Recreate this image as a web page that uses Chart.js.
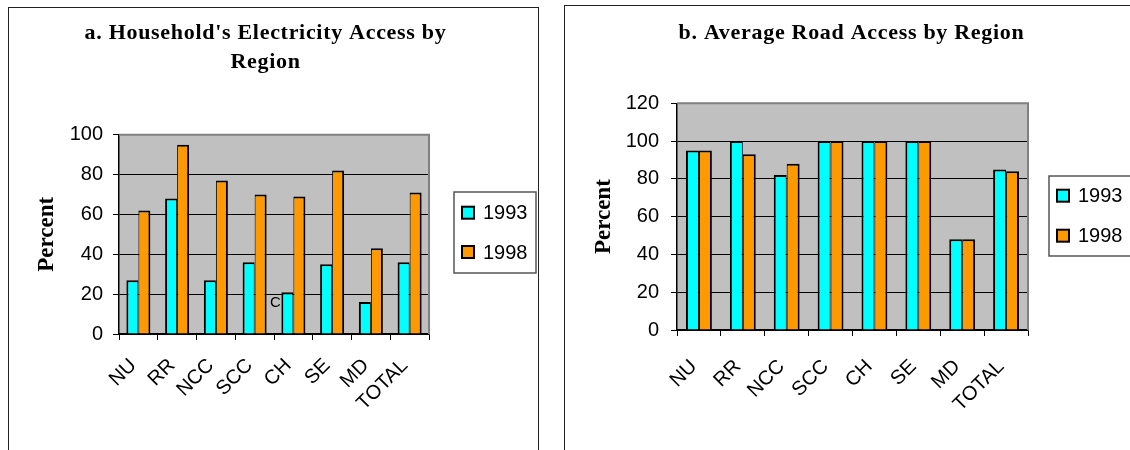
<!DOCTYPE html>
<html>
<head>
<meta charset="utf-8">
<title>Electricity and Road Access by Region</title>
<script src="https://cdn.jsdelivr.net/npm/chart.js@4"></script>
<style>
  html, body { margin: 0; padding: 0; background: #fff; width: 1130px; height: 450px; overflow: hidden; }
  .panel { position: absolute; box-sizing: border-box; border: 1px solid #222; border-bottom: none; background: #fff; }
  #panelA { left: 8px; top: 7px; width: 531px; height: 460px; }
  #panelB { left: 564px; top: 5px; width: 600px; height: 460px; }
  canvas { position: absolute; }
  #chartA { left: 9px; top: 8px; width: 528px; height: 442px; }
  #chartB { left: 565px; top: 6px; width: 565px; height: 444px; }
</style>
</head>
<body>
<div class="panel" id="panelA"></div>
<div class="panel" id="panelB"></div>
<canvas id="chartA" width="528" height="442"></canvas>
<canvas id="chartB" width="565" height="444"></canvas>
<script>
// Regions and survey years
const regions = ['NU', 'RR', 'NCC', 'SCC', 'CH', 'SE', 'MD', 'TOTAL'];
const years = ['1993', '1998'];

// a. Household electricity access (percent)
const electricity1993 = [27, 68, 27, 36, 21, 35, 16, 36];
const electricity1998 = [62, 95, 77, 70, 69, 82, 43, 71];

// b. Average road access (percent)
const road1993 = [95, 100, 82, 100, 100, 100, 48, 85];
const road1998 = [95, 93, 88, 100, 100, 100, 48, 84];

// Value-axis tick labels
const electricityTicks = [0, 20, 40, 60, 80, 100];
const roadTicks = [0, 20, 40, 60, 80, 100, 120];

const titleA = ["a. Household's Electricity Access by", 'Region'];
const titleB = ['b. Average Road Access by Region'];

const seriesColors = ['#00ffff', '#ff9900'];
const sansFont = '"Liberation Sans", Arial, sans-serif';
const serifFont = '"Liberation Serif", "Times New Roman", serif';

// Grey plot area, its frame, the title block and a framed legend
function decorations(opts) {
  return {
    id: 'decorations',
    beforeDraw(chart) {
      const { ctx, chartArea: a } = chart;
      ctx.save();
      ctx.fillStyle = '#c0c0c0';
      ctx.fillRect(a.left, a.top, a.right - a.left, a.bottom - a.top);
      ctx.restore();
    },
    afterDraw(chart) {
      const { ctx, chartArea: a } = chart;
      ctx.save();
      // frame along the top and right of the plot area
      ctx.strokeStyle = '#808080';
      ctx.lineWidth = 2;
      ctx.beginPath();
      ctx.moveTo(a.left, a.top);
      ctx.lineTo(a.right, a.top);
      ctx.lineTo(a.right, a.bottom);
      ctx.stroke();

      // title
      ctx.fillStyle = '#000';
      ctx.font = 'bold 22px ' + serifFont;
      ctx.letterSpacing = '0.7px';
      ctx.textAlign = 'center';
      ctx.textBaseline = 'alphabetic';
      opts.title.forEach((line, i) => ctx.fillText(line, opts.titleX, opts.titleY + i * 29));
      ctx.letterSpacing = '0px';

      // legend
      const L = opts.legend;
      ctx.fillStyle = '#fff';
      ctx.fillRect(L.x, L.y, L.w, L.h);
      ctx.strokeStyle = '#555';
      ctx.lineWidth = 1.5;
      ctx.strokeRect(L.x, L.y, L.w, L.h);
      ctx.font = '20px ' + sansFont;
      ctx.textAlign = 'left';
      ctx.textBaseline = 'middle';
      chart.data.datasets.forEach((ds, i) => {
        const cy = L.rowY[i];
        ctx.fillStyle = ds.backgroundColor;
        ctx.fillRect(L.boxX, cy - 6, 12, 12);
        ctx.strokeStyle = '#000';
        ctx.lineWidth = 2;
        ctx.strokeRect(L.boxX, cy - 6, 12, 12);
        ctx.fillStyle = '#000';
        ctx.fillText(ds.label, L.textX, cy + 1);
      });

      // small label beside the CH 1993 bar
      if (opts.mark) {
        const xs = chart.scales.x, ys = chart.scales.y;
        ctx.font = '15px ' + sansFont;
        ctx.textAlign = 'center';
        ctx.fillStyle = '#000';
        ctx.fillText(opts.mark.text, xs.getPixelForValue(opts.mark.index) - 18, ys.getPixelForValue(opts.mark.value));
      }
      ctx.restore();
    }
  };
}

function makeChart(id, s1993, s1998, tickValues, catPct, layout, deco) {
  const ctx = document.getElementById(id).getContext('2d');
  return new Chart(ctx, {
    type: 'bar',
    data: {
      labels: regions,
      datasets: [
        { label: years[0], data: s1993, backgroundColor: seriesColors[0], borderColor: '#000',
          borderWidth: { top: 2, left: 2, right: 1, bottom: 0 } },
        { label: years[1], data: s1998, backgroundColor: seriesColors[1], borderColor: '#000',
          borderWidth: { top: 2, left: 1, right: 2, bottom: 0 } }
      ]
    },
    options: {
      responsive: false,
      animation: false,
      events: [],
      layout: { padding: layout.padding },
      datasets: { bar: { categoryPercentage: catPct, barPercentage: 1 } },
      plugins: { legend: { display: false }, title: { display: false }, tooltip: { enabled: false } },
      scales: {
        x: {
          offset: true,
          grid: { display: true, offset: true, drawOnChartArea: false, drawTicks: true, tickLength: 6, color: '#000', lineWidth: 1 },
          border: { display: true, color: '#000', width: 1.5 },
          ticks: { color: '#000', font: { family: sansFont, size: 20 }, minRotation: 45, maxRotation: 45, autoSkip: false,
                   padding: layout.xTickPad, labelOffset: -5 },
          afterFit: (scale) => { scale.height = layout.xHeight; }
        },
        y: {
          min: tickValues[0],
          max: tickValues[tickValues.length - 1],
          afterBuildTicks: (scale) => { scale.ticks = tickValues.map(v => ({ value: v })); },
          grid: { color: '#000', lineWidth: 1, tickLength: 6, drawTicks: true },
          border: { display: true, color: '#000', width: 1.5 },
          ticks: { color: '#000', font: { family: sansFont, size: 20 }, padding: layout.yTickPad },
          title: { display: true, text: 'Percent', color: '#000',
                   font: { family: serifFont, size: 23, weight: 'bold' }, padding: { top: layout.yTitlePad, bottom: 0 } },
          afterFit: (scale) => { scale.width = layout.yWidth; }
        }
      }
    },
    plugins: [decorations(deco)]
  });
}

makeChart('chartA', electricity1993, electricity1998, electricityTicks, 0.62,
  { padding: { left: 20, top: 126.7, right: 108, bottom: 26 }, xHeight: 90, yWidth: 90, yTickPad: 10, yTitlePad: 3.9, xTickPad: 14 },
  { title: titleA, titleX: 256.5, titleY: 31.3,
    legend: { x: 445, y: 184, w: 82, h: 81, boxX: 453, textX: 474, rowY: [204.7, 244] },
    mark: { text: 'C', index: 4, value: 15.5 } });

makeChart('chartB', road1993, road1998, roadTicks, 0.59,
  { padding: { left: 20, top: 97.3, right: 102, bottom: 30 }, xHeight: 90, yWidth: 92, yTickPad: 12, yTitlePad: 5.2, xTickPad: 19 },
  { title: titleB, titleX: 286.5, titleY: 33.3,
    legend: { x: 484, y: 170, w: 90, h: 80, boxX: 492, textX: 513, rowY: [189.7, 229.7] } });
</script>
</body>
</html>
